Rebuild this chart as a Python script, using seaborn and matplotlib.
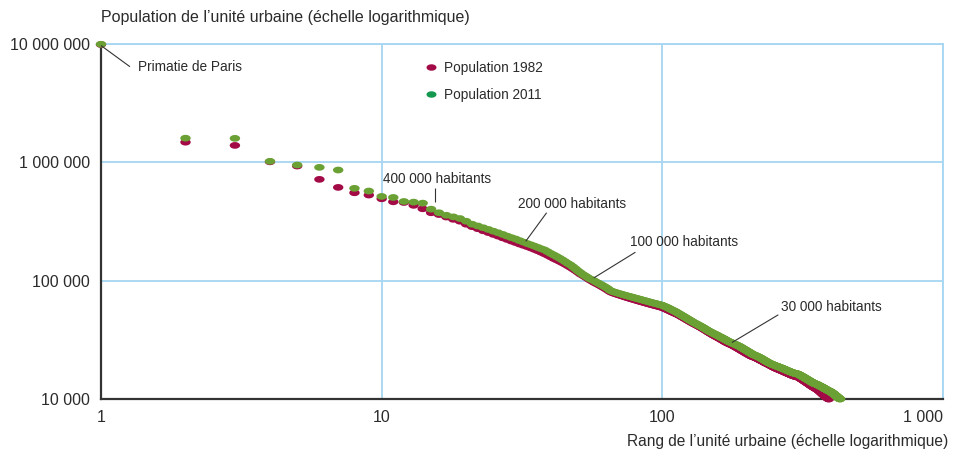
import numpy as np
import pandas as pd
import matplotlib
matplotlib.use("Agg")
import matplotlib.pyplot as plt
from matplotlib.path import Path
from matplotlib.lines import Line2D
from matplotlib.ticker import NullLocator
import seaborn as sns

# ---------------- data (population in thousands, ordered by rank) ----------------
pop_2011_k = [
    9950, 1600, 1595, 1020, 949, 907, 861, 603, 572, 515,
    505, 467, 461, 452, 402, 375, 357, 346, 335, 318,
    300, 290, 280, 271, 262, 254, 246, 238, 231, 225,
    218, 212, 206, 201, 196, 191, 186, 182, 176, 170,
    165, 160, 155, 150, 145, 140, 136, 131, 126, 121,
    117, 113, 110, 107, 104, 102, 100, 97.5, 95.5, 93.5,
    91.5, 89.5, 87.5, 85.5, 83, 81.5, 80.5, 79.6, 78.8, 78,
    77.2, 76.5, 75.8, 75.1, 74.4, 73.8, 73.2, 72.6, 72, 71.4,
    70.8, 70.3, 69.7, 69.2, 68.6, 68.1, 67.6, 67.1, 66.6, 66.1,
    65.6, 65.2, 64.7, 64.3, 63.9, 63.5, 63.1, 62.7, 62.3, 61.9,
    61.2, 60.6, 60.0, 59.4, 58.8, 58.1, 57.4, 56.8, 56.2, 55.6, 55.0, 54.4, 53.7, 53.0,
    52.4, 51.8, 51.1, 50.5, 49.9, 49.3, 48.8, 48.2, 47.6, 47.1,
    46.5, 46.0, 45.5, 45.0, 44.5, 44.0, 43.6, 43.2, 42.8, 42.4,
    42.0, 41.6, 41.2, 40.8, 40.4, 40.0, 39.6, 39.2, 38.8, 38.4,
    38.0, 37.6, 37.3, 37.0, 36.7, 36.4, 36.1, 35.8, 35.5, 35.3,
    35.0, 34.8, 34.5, 34.2,
    33.9, 33.7, 33.4, 33.2, 32.9, 32.7, 32.4, 32.2, 31.9, 31.7,
    31.4, 31.2, 30.9, 30.7, 30.5, 30.3, 30.1, 30.0,
    29.8, 29.6, 29.4, 29.3, 29.1, 28.9, 28.7, 28.6, 28.4, 28.2, 28.1,
    27.9, 27.7, 27.5, 27.3, 27.1, 26.9, 26.7, 26.5, 26.3, 26.1,
    25.9, 25.8, 25.6, 25.4, 25.2, 25.0, 24.9, 24.7, 24.5, 24.3,
    24.2, 24.0, 23.9, 23.7, 23.6, 23.5, 23.4, 23.3, 23.2, 23.0, 22.9, 22.8,
    22.7, 22.6, 22.5, 22.3, 22.2, 22.1, 21.9, 21.8, 21.7, 21.5,
    21.4, 21.3, 21.1, 21.0, 20.9, 20.8, 20.6, 20.5, 20.4, 20.3,
    20.2, 20.1, 20.0, 19.9, 19.8, 19.7, 19.6, 19.6, 19.5, 19.4,
    19.3, 19.3, 19.2, 19.1, 19.0, 19.0, 18.9, 18.9, 18.8,
    18.7, 18.7, 18.6, 18.5, 18.5, 18.4, 18.3, 18.3, 18.2, 18.1,
    18.1, 18.0, 17.9, 17.9, 17.8, 17.7, 17.7, 17.6, 17.5, 17.5,
    17.4, 17.3, 17.3, 17.2, 17.2, 17.1, 17.0, 17.0, 16.9, 16.9,
    16.8, 16.8, 16.7, 16.7, 16.6, 16.6, 16.5, 16.5, 16.5, 16.4,
    16.4, 16.4, 16.3, 16.3, 16.3, 16.3,
    16.2, 16.1, 16.1, 16.0, 15.9, 15.9, 15.8, 15.7, 15.7, 15.6,
    15.5, 15.5, 15.4, 15.3, 15.3, 15.2, 15.1, 15.1, 15.0, 14.9,
    14.9, 14.8, 14.7, 14.7, 14.6, 14.5, 14.5, 14.4, 14.4, 14.3,
    14.2, 14.2, 14.1, 14.1, 14.0, 13.9, 13.9, 13.8, 13.8, 13.7,
    13.7, 13.6, 13.6, 13.5, 13.5, 13.5, 13.4, 13.4, 13.4, 13.3,
    13.3, 13.3, 13.2, 13.2,
    13.1, 13.1, 13.0, 13.0, 12.9, 12.9, 12.9, 12.8, 12.8, 12.7,
    12.7, 12.6, 12.6, 12.6, 12.5, 12.5, 12.4, 12.4, 12.3, 12.3,
    12.2, 12.2, 12.1, 12.1, 12.1, 12.0, 12.0, 11.9, 11.9, 11.9,
    11.8, 11.8, 11.7, 11.7, 11.7, 11.6, 11.6, 11.6, 11.5, 11.5,
    11.5, 11.4, 11.4, 11.3, 11.3, 11.2, 11.2,
    11.1, 11.1, 11.0, 11.0, 10.9, 10.9, 10.8, 10.8, 10.7, 10.7,
    10.6, 10.6, 10.5, 10.5, 10.4, 10.4, 10.3, 10.3, 10.2, 10.2,
    10.1, 10.1, 10.1, 10.0, 10.0,
]

pop_1982_k = [
    9900, 1480, 1390, 1010, 930, 718, 614, 553, 529, 492,
    464, 458, 433, 405, 375, 362, 345, 330, 318, 300,
    286, 275, 264, 255, 246, 238, 230, 223, 216, 210,
    204, 199, 194, 189, 184, 179, 174, 169, 164, 159,
    154, 150, 146, 142, 138, 134, 130, 126, 122, 118,
    114, 111, 108, 105, 102, 99.5, 97, 95, 93, 91,
    89, 87, 85, 83, 81, 79.5, 78.5, 77.5, 76.6, 75.8,
    75.0, 74.2, 73.4, 72.6, 71.9, 71.2, 70.5, 69.9, 69.3, 68.7,
    68.1, 67.5, 67.0, 66.4, 65.9, 65.4, 64.9, 64.4, 63.9, 63.4,
    63.0, 62.5, 62.1, 61.7, 61.3, 60.9, 60.5, 60.1, 59.7, 59.3,
    58.7, 58.1, 57.5, 56.9, 56.3, 55.7, 55.1, 54.6, 54.0, 53.5, 53.0, 52.5, 52.0, 51.5,
    50.9, 50.3, 49.7, 49.1, 48.6, 48.0, 47.5, 46.9, 46.4, 45.9,
    45.4, 44.9, 44.4, 43.9, 43.5, 43.1, 42.7, 42.3, 41.9, 41.5,
    41.1, 40.7, 40.3, 39.9, 39.5, 39.1, 38.7, 38.3, 37.9, 37.5,
    37.1, 36.7, 36.4, 36.0, 35.7, 35.4, 35.0, 34.7, 34.4, 34.1,
    33.8, 33.5, 33.3, 33.0,
    32.7, 32.5, 32.2, 31.9, 31.6, 31.4, 31.1, 30.8, 30.6, 30.3,
    30.1, 29.9, 29.7, 29.5, 29.3, 29.1, 28.9, 28.8,
    28.6, 28.4, 28.2, 28.0, 27.8, 27.6, 27.4, 27.2, 27.0, 26.8,
    26.6, 26.4, 26.2, 26.0, 25.8, 25.6, 25.4, 25.3, 25.1, 24.9,
    24.7, 24.5, 24.4, 24.2, 24.0, 23.9, 23.7, 23.6, 23.4, 23.3,
    23.1, 23.0, 22.9, 22.8, 22.7, 22.6, 22.5, 22.4, 22.3, 22.2,
    22.1, 22.0, 21.8,
    21.7, 21.6, 21.5, 21.4, 21.2, 21.1, 21.0, 20.9, 20.8, 20.7,
    20.5, 20.4, 20.3, 20.2, 20.1, 20.0, 19.9, 19.8, 19.7, 19.6,
    19.5, 19.4, 19.3, 19.2, 19.1, 19.0, 18.9, 18.8, 18.7, 18.6,
    18.5, 18.4, 18.4, 18.3, 18.2, 18.1, 18.0, 18.0, 17.9,
    17.8, 17.8, 17.7, 17.6, 17.6, 17.5, 17.4, 17.4, 17.3, 17.2,
    17.2, 17.1, 17.0, 17.0, 16.9, 16.8, 16.8, 16.7, 16.6, 16.6,
    16.5, 16.5, 16.4, 16.3, 16.3, 16.2, 16.2, 16.1, 16.0, 16.0,
    15.9, 15.9, 15.8, 15.8, 15.7, 15.7, 15.6, 15.6, 15.6, 15.5,
    15.5, 15.5, 15.5, 15.4, 15.4, 15.4,
    15.3, 15.2, 15.2, 15.1, 15.0, 15.0, 14.9, 14.8, 14.7, 14.7,
    14.6, 14.5, 14.5, 14.4, 14.3, 14.2, 14.2, 14.1, 14.0, 14.0,
    13.9, 13.8, 13.8, 13.7, 13.6, 13.6, 13.5, 13.4, 13.4, 13.3,
    13.2, 13.2, 13.1, 13.0, 13.0, 12.9, 12.9, 12.8, 12.7, 12.7,
    12.6, 12.6, 12.5, 12.5, 12.4, 12.4, 12.3, 12.3, 12.2, 12.2,
    12.1, 12.1, 12.0, 12.0,
    11.9, 11.9, 11.8, 11.7, 11.7, 11.6, 11.5, 11.5, 11.4, 11.3,
    11.3, 11.2, 11.1, 11.1, 11.0, 10.9, 10.9, 10.8, 10.8, 10.7,
    10.6, 10.6, 10.5, 10.5, 10.4, 10.4, 10.3, 10.3, 10.2, 10.2,
    10.1, 10.1, 10.0, 10.0,
]

series_labels = ["Population 1982", "Population 2011"]
series_colors = ["#a30b47", "#6aa034"]
legend_colors = ["#a30b47", "#14984f"]

x_ticks = [1, 10, 100, 1000]
x_tick_labels = ["1", "10", "100", "1 000"]
y_ticks = [1e4, 1e5, 1e6, 1e7]
y_tick_labels = ["10 000", "100 000", "1 000 000", "10 000 000"]

title_y = "Population de l\u2019unit\u00e9 urbaine (\u00e9chelle logarithmique)"
title_x = "Rang de l\u2019unit\u00e9 urbaine (\u00e9chelle logarithmique)"

# annotations: (text, text_x, text_y, ha, line_x0, line_y0, line_x1, line_y1) in data units
annotations = [
    ("Primatie de Paris", 1.354, 5.94e6, "left", 1.0, 9.7e6, 1.268, 6.43e6),
    ("400 000 habitants", 15.78, 6.73e5, "center", 15.48, 6.03e5, 15.48, 4.58e5),
    ("200 000 habitants", 47.6, 4.13e5, "center", 38.7, 3.75e5, 32.6, 2.15e5),
    ("100 000 habitants", 76.6, 1.955e5, "left", 80.2, 1.74e5, 57.0, 1.055e5),
    ("30 000 habitants", 265, 5.49e4, "left", 259, 5.15e4, 177, 3.0e4),
]

# ---------------- build table ----------------
df = pd.concat([
    pd.DataFrame({"rang": np.arange(1, len(pop_1982_k) + 1),
                  "population": np.array(pop_1982_k) * 1000,
                  "serie": series_labels[0]}),
    pd.DataFrame({"rang": np.arange(1, len(pop_2011_k) + 1),
                  "population": np.array(pop_2011_k) * 1000,
                  "serie": series_labels[1]}),
], ignore_index=True)

# ---------------- style ----------------
sns.set_theme(style="white")
plt.rcParams["font.family"] = ["Liberation Sans", "DejaVu Sans"]
text_color = "#2b2b2b"
grid_color = "#a6d6f2"
small_fs = 9.8

W, H = 958, 451
fig = plt.figure(figsize=(W / 100, H / 100), dpi=100)
fig.patch.set_facecolor("white")
ax = fig.add_axes([101 / W, 1 - 399 / H, (943 - 101) / W, (399 - 44) / H])

theta = np.linspace(0, 2 * np.pi, 48)
ellipse = Path(np.column_stack([1.55 * np.cos(theta), np.sin(theta)]))

sns.scatterplot(data=df, x="rang", y="population", hue="serie",
                hue_order=series_labels,
                palette=dict(zip(series_labels, series_colors)),
                marker=ellipse, s=56, linewidth=0, legend=False,
                ax=ax, clip_on=False, zorder=5)

ax.set_xscale("log")
ax.set_yscale("log")
ax.set_xlim(1, 1000)
ax.set_ylim(1e4, 1e7)
ax.set_xlabel("")
ax.set_ylabel("")

ax.set_xticks(x_ticks)
ax.set_xticklabels(x_tick_labels)
ax.set_yticks(y_ticks)
ax.set_yticklabels(y_tick_labels)
ax.xaxis.set_minor_locator(NullLocator())
ax.yaxis.set_minor_locator(NullLocator())
ax.tick_params(axis="both", length=0, labelsize=11.5, colors=text_color)
ax.tick_params(axis="x", pad=8)
ax.tick_params(axis="y", pad=8)
ax.get_xticklabels()[-1].set_horizontalalignment("right")

ax.grid(True, which="major", color=grid_color, linewidth=1.3)
ax.set_axisbelow(True)
for side in ["left", "bottom"]:
    ax.spines[side].set_color("#333333")
    ax.spines[side].set_linewidth(1.6)
    ax.spines[side].set_zorder(4)
for side in ["top", "right"]:
    ax.spines[side].set_color(grid_color)
    ax.spines[side].set_linewidth(1.3)

fig.text(101 / W, 1 - 22 / H, title_y, ha="left", va="baseline",
         fontsize=11.5, color=text_color)
fig.text(948 / W, 1 - 446 / H, title_x, ha="right", va="baseline",
         fontsize=11.2, color=text_color)

for txt, tx, ty, ha, x0, y0, x1, y1 in annotations:
    ax.plot([x0, x1], [y0, y1], color="#333333", linewidth=0.8,
            solid_capstyle="butt", zorder=6, clip_on=False)
    ax.text(tx, ty, txt, ha=ha, va="baseline", fontsize=small_fs,
            color=text_color, zorder=7)

handles = [Line2D([], [], linestyle="none", marker=ellipse, markersize=7.2,
                  markerfacecolor=c, markeredgewidth=0) for c in legend_colors]
leg = ax.legend(handles, series_labels, loc="upper left",
                bbox_to_anchor=((426.5 - 101) / (943 - 101), (399 - 61) / (399 - 44)),
                frameon=False, borderpad=0, borderaxespad=0,
                handlelength=0.7, handletextpad=0.62, labelspacing=0.95,
                prop={"size": small_fs})
for t in leg.get_texts():
    t.set_color(text_color)

fig.savefig("out.png", dpi=100, facecolor="white")
